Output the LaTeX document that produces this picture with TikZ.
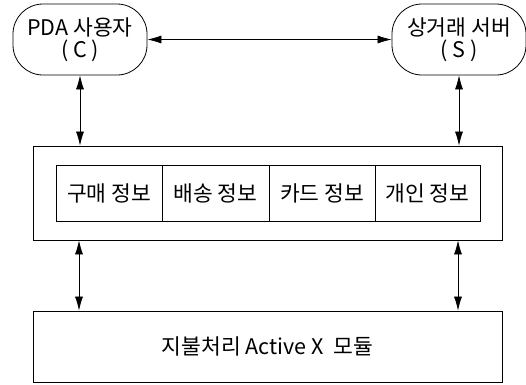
\documentclass[tikz,border=0pt]{standalone}
\usepackage{fontspec}
\setmainfont{Noto Sans CJK KR}
\usetikzlibrary{arrows.meta,calc}
\begin{document}
\begin{tikzpicture}[x=1pt,y=-1pt,
  every node/.style={font=\fontsize{21.5}{22}\selectfont},
  term/.style={draw,line width=0.8pt,rounded corners=30pt,minimum width=134pt,minimum height=71pt,align=center,inner sep=0pt},
  box/.style={draw,line width=0.8pt,inner sep=0pt},
  cell/.style={draw,line width=0.8pt,inner sep=0pt,minimum height=56pt},
  link/.style={line width=0.7pt,{Latex[length=14pt,width=8pt]}-{Latex[length=14pt,width=8pt]}}]
\useasboundingbox (0,0) rectangle (526,384);
\node[term] (c) at (80,39.5) {PDA 사용자\\( C )};
\node[term] (s) at (459,39.5) {상거래 서버\\( S )};
\node[box,minimum width=469pt,minimum height=94pt] (outer) at (267.5,193) {};
\node[cell,minimum width=106pt] (i1) at (109,193) {구매 정보};
\node[cell,minimum width=107pt] (i2) at (215.5,193) {배송 정보};
\node[cell,minimum width=106pt] (i3) at (322,193) {카드 정보};
\node[cell,minimum width=105pt] (i4) at (427.5,193) {개인 정보};
\node[box,minimum width=469pt,minimum height=71pt] (pay) at (267.5,346.5) {지불처리 Active X\ \ 모듈};
\draw[link] (c.east) -- (s.west);
\draw[link] (c.south) -- (c.south |- outer.north);
\draw[link] (s.south) -- (s.south |- outer.north);
\coordinate (lx) at (79,0);
\coordinate (rx) at (458,0);
\draw[link] (lx |- outer.south) -- (lx |- pay.north);
\draw[link] (rx |- outer.south) -- (rx |- pay.north);
\end{tikzpicture}
\end{document}
